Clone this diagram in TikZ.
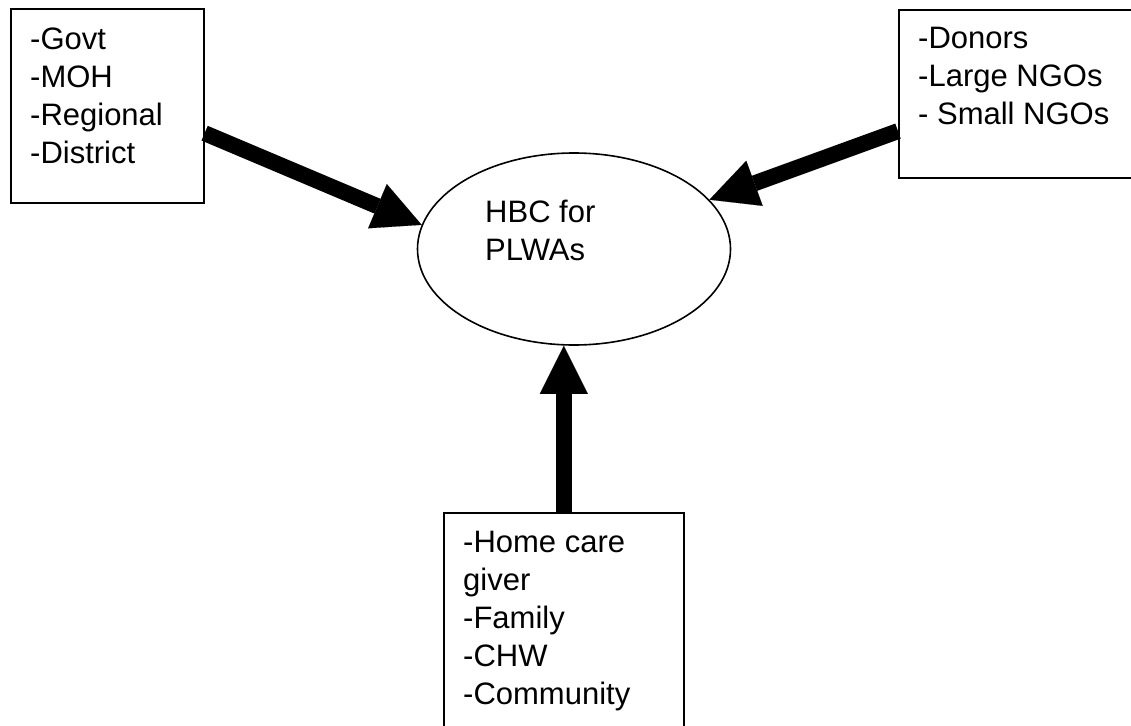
\documentclass[tikz,border=0pt]{standalone}
\usepackage{fontspec}
\setmainfont{Liberation Sans}
\usetikzlibrary{arrows.meta,calc,shapes.geometric}
\begin{document}
\begin{tikzpicture}[x=1pt,y=-1pt,
  box/.style={draw, line width=1.6pt, rectangle, inner sep=0pt, anchor=north west},
  txt/.style={inner sep=0pt, anchor=north west, align=left, font=\fontsize{31}{38}\selectfont},
  conn/.style={line width=16pt, -{Triangle[length=48pt,width=48pt,line width=0.1pt]}}]
\useasboundingbox[fill=white] (0,0) rectangle (1131,725);
% boxes
\node[box, minimum width=193pt, minimum height=194pt] (lbox) at (10,8) {};
\node[box, minimum width=242pt, minimum height=168pt] (rbox) at (898,9) {};
\node[box, minimum width=240pt, minimum height=228pt] (bbox) at (443,512) {};
% ellipse
\node[draw, ellipse, line width=1.6pt, minimum width=313pt, minimum height=192pt, inner sep=0pt] (hbc) at (574,249) {};
% texts
\node[txt] (ltxt) at (30,28) {-Govt\\-MOH\\-Regional\\-District};
\node[txt] (rtxt) at (918,27) {-Donors\\-Large NGOs\\- Small NGOs};
\node[txt] (btxt) at (463,531) {-Home care\\giver\\-Family\\-CHW\\-Community};
\node[txt] (htxt) at (485,200) {HBC for\\PLWAs};
% connectors
\draw[conn] ($(lbox.north east)!0.64!(lbox.south east)$) -- (hbc.171);
\draw[conn] ($(rbox.north west)!0.72!(rbox.south west)$) -- (hbc.20);
\draw[conn] (bbox.north) -- (bbox.north |- hbc.south);
\end{tikzpicture}
\end{document}
